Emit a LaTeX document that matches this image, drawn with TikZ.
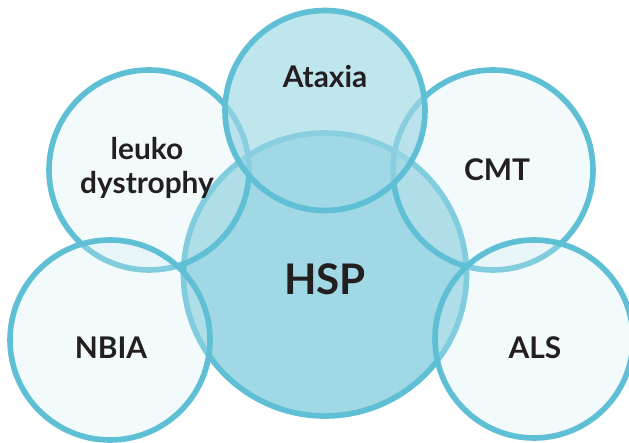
\documentclass[tikz,border=0pt]{standalone}
\usepackage{fontspec}
\setmainfont{Lato}
\usepackage{xcolor}
\usepackage{tikz}
\definecolor{vdring}{HTML}{5EBFD5}
\definecolor{vdcorefill}{HTML}{A0D8E5}
\definecolor{vdpalefill}{RGB}{211,238,245}
\definecolor{vdink}{HTML}{231F20}
\tikzset{
  vdcore/.style={fill=vdcorefill, draw=vdring, line width=3.2pt},
  vdpale/.style={fill=vdpalefill, fill opacity=0.3, draw=vdring, line width=3.2pt},
  vdtop/.style={fill=vdcorefill, fill opacity=0.68, draw=vdring, line width=3.2pt},
  vdlabel/.style={text=vdink, font=\bfseries\fontsize{17}{19}\selectfont, inner sep=0pt, align=center},
  vdbig/.style={text=vdink, font=\bfseries\fontsize{24}{28}\selectfont, inner sep=0pt},
}
\begin{document}
\begin{tikzpicture}
\useasboundingbox (0,0) rectangle (12.580,8.860);
\draw[vdcore] (6.500,3.370) circle (2.830);
\draw[vdpale] (2.980,5.460) circle (2.000);
\draw[vdpale] (9.860,5.460) circle (2.000);
\draw[vdpale] (2.200,2.060) circle (2.000);
\draw[vdpale] (10.680,2.080) circle (1.980);
\draw[vdtop] (6.500,6.650) circle (2.000);
\node[vdlabel] (ataxia) at (6.500,7.320) {Ataxia};
\node[vdlabel] (leuko) at (2.940,5.500) {leuko\\dystrophy};
\node[vdlabel] (cmt) at (9.940,5.460) {CMT};
\node[vdbig] (hsp) at (6.500,3.280) {HSP};
\node[vdlabel] (nbia) at (2.220,1.900) {NBIA};
\node[vdlabel] (als) at (10.700,1.900) {ALS};
\end{tikzpicture}
\end{document}
